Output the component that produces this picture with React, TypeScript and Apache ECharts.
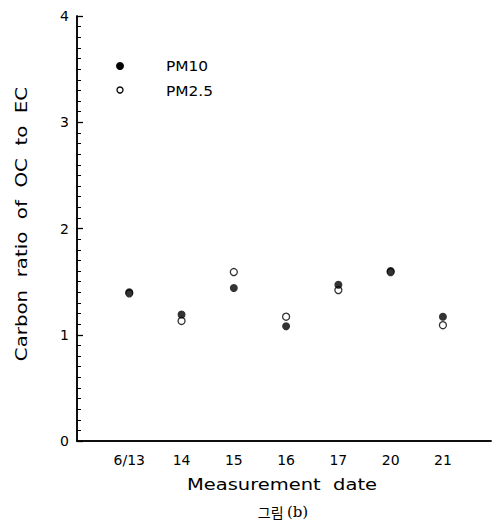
import React, { useEffect, useRef } from "react";
import * as echarts from "echarts";

const dates = ["6/13", "14", "15", "16", "17", "20", "21"];
const pm10 = [1.40, 1.19, 1.44, 1.08, 1.47, 1.60, 1.17];
const pm25 = [1.39, 1.13, 1.59, 1.17, 1.42, 1.59, 1.09];
const yTicks = [0, 1, 2, 3, 4];

const FONT = "DejaVu Sans";

export default function App() {
  const ref = useRef<HTMLDivElement>(null);
  useEffect(() => {
    if (!ref.current) return;
    const chart = echarts.init(ref.current, undefined, { renderer: "svg" });
    const lineStyle = { color: "#000", width: 1.5 };
    chart.setOption({
      animation: false,
      backgroundColor: "#fff",
      grid: {
        left: 77,
        right: 5,
        top: 16,
        bottom: 85,
        show: false,
      },
      xAxis: [
        {
          type: "value",
          min: 0,
          max: 7.92,
          interval: 1,
          axisLine: { show: true, lineStyle },
          axisTick: { show: false },
          splitLine: { show: false },
          axisLabel: {
            color: "#000",
            fontFamily: FONT,
            fontSize: 14,
            margin: 12,
            showMaxLabel: false,
            formatter: (v: number) => {
              const i = Math.round(v);
              if (Math.abs(v - i) > 1e-6 || i < 1 || i > dates.length) return "";
              return dates[i - 1];
            },
          },
        },
        {
          type: "value",
          position: "top",
          min: 0,
          max: 7.92,
          axisLine: { show: true, lineStyle },
          axisTick: { show: false },
          splitLine: { show: false },
          axisLabel: { show: false },
        },
      ],
      yAxis: [
        {
          type: "value",
          min: yTicks[0],
          max: yTicks[yTicks.length - 1],
          interval: 1,
          axisLine: { show: true, lineStyle },
          axisTick: { show: true, inside: true, length: 6, lineStyle: { color: "#000", width: 1.3 } },
          minorTick: { show: true, splitNumber: 10, length: 4, lineStyle: { color: "#000", width: 1 } },
          splitLine: { show: false },
          axisLabel: {
            color: "#000",
            fontFamily: FONT,
            fontSize: 14,
            margin: 8,
          },
        },
        {
          type: "value",
          position: "right",
          min: 0,
          max: 4,
          axisLine: { show: true, lineStyle },
          axisTick: { show: false },
          splitLine: { show: false },
          axisLabel: { show: false },
        },
      ],
      graphic: [
        { type: "circle", shape: { cx: 120, cy: 66, r: 4 }, style: { fill: "#000" } },
        { type: "circle", shape: { cx: 120, cy: 90, r: 3 }, style: { fill: "#fff", stroke: "#000", lineWidth: 1.3 } },
        { type: "text", x: 166, y: 66, scaleX: 1.1, style: { text: "PM10", font: `14px '${FONT}'`, fill: "#000", textAlign: "left", textVerticalAlign: "middle" } },
        { type: "text", x: 166, y: 91, scaleX: 1.1, style: { text: "PM2.5", font: `14px '${FONT}'`, fill: "#000", textAlign: "left", textVerticalAlign: "middle" } },
        {
          type: "text",
          x: 22,
          y: 224,
          rotation: Math.PI / 2,
          scaleX: 1.32,
          style: { text: "Carbon  ratio  of  OC  to  EC", font: `15px '${FONT}'`, fill: "#000", textAlign: "center", textVerticalAlign: "middle" },
        },
        {
          type: "text",
          x: 282,
          y: 485,
          scaleX: 1.3,
          style: { text: "Measurement  date", font: `15px '${FONT}'`, fill: "#000", textAlign: "center", textVerticalAlign: "middle" },
        },
        {
          type: "text",
          x: 283,
          y: 512,
          style: {
            text: "{k|그림} {s|(b)}",
            fill: "#000",
            textAlign: "center",
            textVerticalAlign: "middle",
            rich: {
              k: { fontFamily: "Noto Sans CJK KR", fontSize: 14, fill: "#000" },
              s: { fontFamily: "DejaVu Serif", fontSize: 15, fill: "#000" },
            },
          },
        },
      ],
      series: [
        {
          name: "PM2.5",
          type: "scatter",
          symbol: "circle",
          symbolSize: 7,
          itemStyle: { color: "#fff", borderColor: "#000", borderWidth: 1.3 },
          data: pm25.map((v, i) => [i + 1, v]),
          z: 2,
        },
        {
          name: "PM10",
          type: "scatter",
          symbol: "circle",
          symbolSize: 8,
          itemStyle: { color: "#000" },
          data: pm10.map((v, i) => [i + 1, v]),
          z: 3,
        },
      ],
    });
    return () => chart.dispose();
  }, []);
  return <div ref={ref} style={{ width: 496, height: 526, position: "absolute", left: 0, top: 0 }} />;
}
